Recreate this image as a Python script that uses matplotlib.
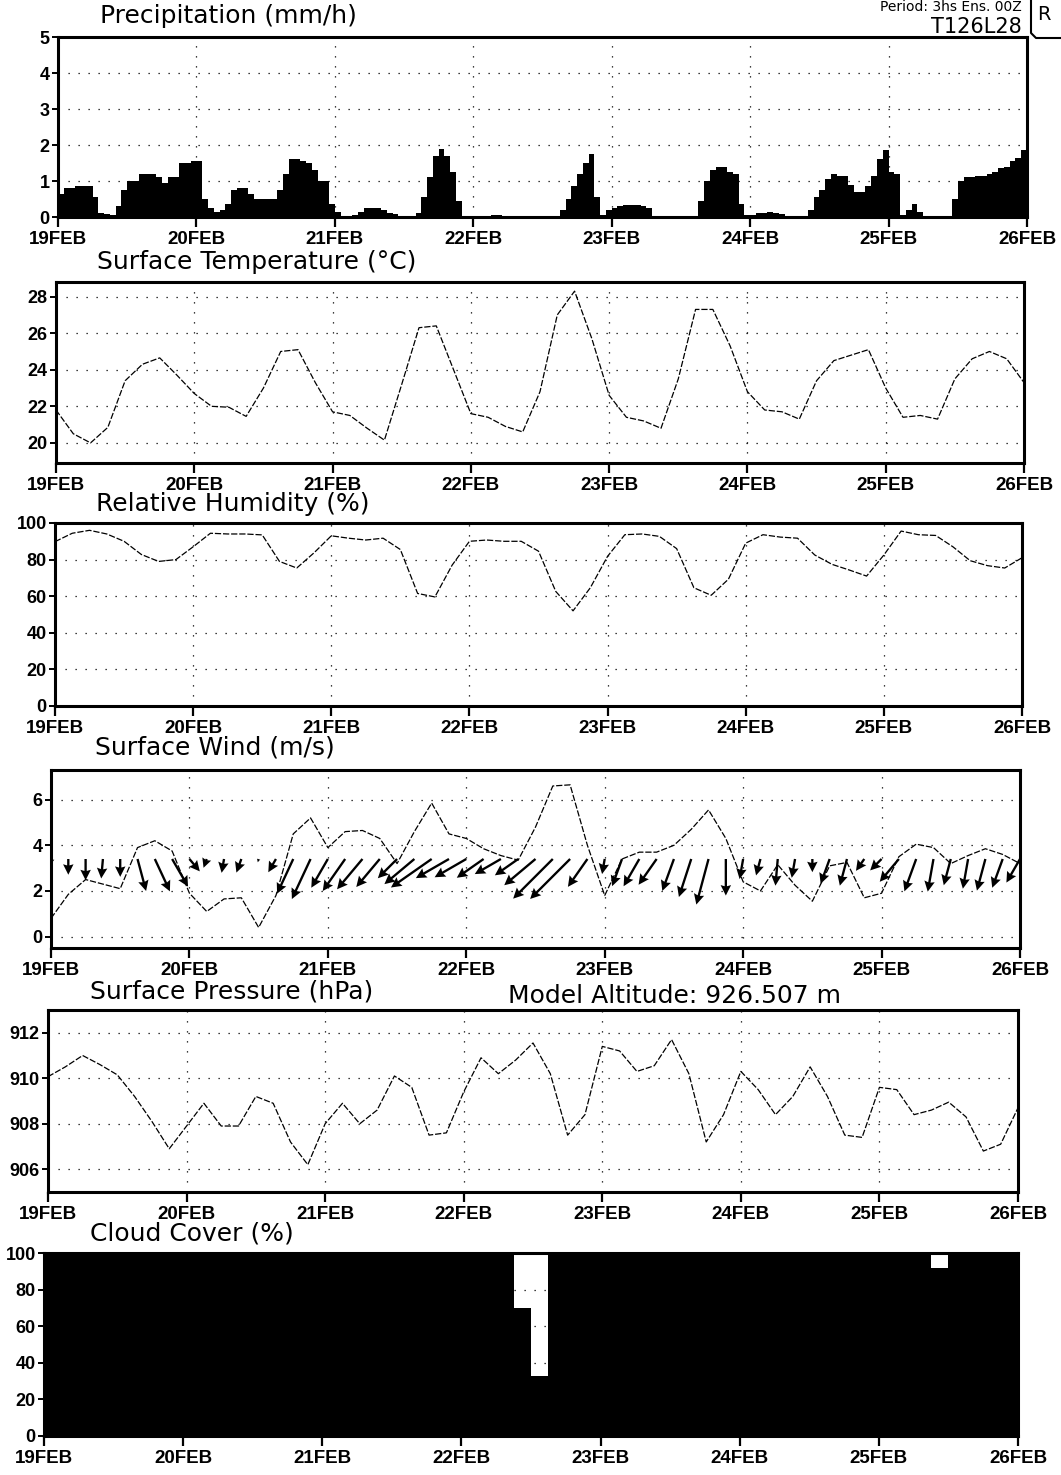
import numpy as np
import matplotlib; matplotlib.use("Agg")
import matplotlib.pyplot as plt
from matplotlib.lines import Line2D

DAYS = ["19FEB", "20FEB", "21FEB", "22FEB", "23FEB", "24FEB", "25FEB", "26FEB"]

# hourly precipitation (mm/h), one row per day
PR_19 = [0.65,0.8,0.8,0.85,0.85,0.85,0.55,0.1,0.08,0.05,0.3,0.75,1.0,1.0,1.2,1.2,1.2,1.1,0.95,1.1,1.1,1.5,1.5,1.55]
PR_20 = [1.55,0.5,0.25,0.15,0.2,0.35,0.75,0.8,0.8,0.65,0.5,0.5,0.5,0.5,0.75,1.2,1.6,1.6,1.55,1.5,1.3,1.0,1.0,0.35]
PR_21 = [0.15,0.02,0.02,0.05,0.15,0.25,0.25,0.25,0.2,0.12,0.08,0.02,0.02,0.02,0.1,0.55,1.1,1.7,1.9,1.7,1.25,0.45,0.02,0.02]
PR_22 = [0.02,0.02,0.03,0.05,0.05,0.03,0.02,0.02,0.02,0.02,0.02,0.02,0.02,0.02,0.02,0.2,0.5,0.85,1.2,1.5,1.75,0.55,0.05,0.2]
PR_23 = [0.25,0.3,0.33,0.33,0.33,0.3,0.25,0.02,0.02,0.02,0.02,0.02,0.02,0.02,0.02,0.45,1.0,1.3,1.4,1.4,1.25,1.2,0.35,0.05]
PR_24 = [0.05,0.12,0.12,0.15,0.12,0.08,0.02,0.02,0.02,0.02,0.2,0.55,0.75,1.05,1.2,1.15,1.15,0.9,0.7,0.7,0.85,1.15,1.6,1.85]
PR_25 = [1.25,1.2,0.05,0.2,0.35,0.15,0.02,0.02,0.02,0.02,0.02,0.5,1.0,1.1,1.1,1.15,1.15,1.2,1.25,1.35,1.4,1.55,1.65,1.85]
PRECIP = PR_19 + PR_20 + PR_21 + PR_22 + PR_23 + PR_24 + PR_25

# 3-hourly series, 19FEB 00Z .. 26FEB 00Z
TEMP = [21.8,20.5,20.0,20.85,23.4,24.3,24.65,23.7,
        22.7,22.0,21.95,21.45,23.0,25.0,25.1,23.3,
        21.7,21.5,20.8,20.15,23.2,26.3,26.4,24.0,
        21.6,21.4,20.9,20.6,22.8,27.0,28.3,25.7,
        22.6,21.4,21.2,20.8,23.5,27.3,27.3,25.3,
        22.8,21.8,21.7,21.3,23.4,24.5,24.8,25.1,
        23.0,21.4,21.5,21.3,23.5,24.6,25.0,24.6,
        23.3]
RH = [89.8,94.4,96.0,94.0,90.0,82.8,79.0,80.0,
      87.0,94.4,94.0,94.0,93.5,79.0,75.4,83.7,
      93.0,91.7,90.7,91.7,85.5,61.5,59.6,77.0,
      90.0,90.7,90.0,90.0,84.6,62.6,52.0,64.6,
      81.8,93.6,94.0,92.7,86.0,64.6,60.5,69.3,
      89.0,93.6,92.3,91.7,82.5,77.4,74.3,71.0,
      82.5,95.6,93.6,93.2,87.0,79.4,76.7,75.4,
      81.0]
WSPD = [0.8,1.85,2.5,2.3,2.1,3.9,4.2,3.75,
        1.9,1.1,1.65,1.7,0.4,1.8,4.5,5.2,
        3.9,4.6,4.65,4.3,3.2,4.6,5.85,4.5,
        4.3,3.85,3.55,3.35,4.8,6.6,6.65,4.0,
        1.8,3.4,3.7,3.7,4.0,4.7,5.55,4.3,
        2.4,2.0,3.15,2.25,1.55,3.1,3.25,1.7,
        1.9,3.5,4.05,3.9,3.2,3.55,3.85,3.6,
        3.2]
WDIR = [10,0,0,5,0,345,335,330,
        320,20,10,20,15,30,25,25,
        30,35,40,40,45,50,55,60,
        60,55,60,55,50,45,45,35,
        10,20,30,35,20,18,15,0,
        10,15,5,10,0,20,15,35,
        45,40,20,10,15,10,15,20,
        30]
PRES = [910.07,910.5,911.0,910.6,910.15,909.2,908.1,906.9,
        907.9,908.9,907.9,907.9,909.2,908.9,907.2,906.2,
        908.0,908.9,908.0,908.6,910.1,909.6,907.5,907.6,
        909.4,910.9,910.2,910.8,911.55,910.2,907.5,908.4,
        911.4,911.2,910.3,910.55,911.7,910.2,907.2,908.4,
        910.3,909.5,908.4,909.2,910.5,909.2,907.5,907.4,
        909.6,909.5,908.4,908.6,908.95,908.3,906.8,907.1,
        908.7]
# 3-hourly cloud cover (%), per interval
CLOUD = [100,100,100,100,100,100,100,100,
         100,100,100,100,100,100,100,100,
         100,100,100,100,100,100,100,100,
         100,100,100,70,33,100,100,100,
         100,100,100,100,100,100,100,100,
         100,100,100,100,100,100,100,100,
         100,100,100,92,100,100,100,100]

W, H = 1061, 1475
plt.rcParams["font.family"] = ["Liberation Sans", "DejaVu Sans"]

fig = plt.figure(figsize=(W/100, H/100), dpi=100)


def panel(l, t, r, b, ylim, yticks):
    ax = fig.add_axes([l/W, 1-b/H, (r-l)/W, (b-t)/H])
    ax.set_xlim(0, 168); ax.set_ylim(*ylim)
    ax.set_xticks(np.arange(0, 169, 24)); ax.set_xticklabels(DAYS)
    ax.set_yticks(yticks); ax.set_yticklabels([str(v) for v in yticks])
    for s in ax.spines.values():
        s.set_linewidth(2.2)
    ax.tick_params(axis="x", direction="out", length=7, width=1.6, pad=3, labelsize=13.5)
    ax.tick_params(axis="y", direction="out", length=4, width=1.4, pad=2, labelsize=13)
    for lab in ax.get_xticklabels() + ax.get_yticklabels():
        lab.set_fontweight("bold")
    ax.set_axisbelow(True)
    ax.grid(True, ls=(0, (1, 7)), lw=0.9, color="k")
    return ax


def title(txt, x, y):
    fig.text(x/W, 1-y/H, txt, ha="left", va="center", fontsize=18, family="DejaVu Sans")


th = np.arange(0, 169)
t3 = np.arange(0, 169, 3)
LS = dict(color="k", lw=0.9, ls=(0, (5, 1.5)))

# precipitation
ax = panel(58, 37, 1027, 217, (0, 5), [0, 1, 2, 3, 4, 5])
ax.stairs(PRECIP, th, fill=True, color="k")
title("Precipitation (mm/h)", 100, 16)

# temperature
ax = panel(56, 282, 1024, 463, (18.9, 28.8), [20, 22, 24, 26, 28])
ax.plot(t3, TEMP, **LS)
title("Surface Temperature (°C)", 97, 262)

# relative humidity
ax = panel(55, 523, 1022, 706, (0, 100), [0, 20, 40, 60, 80, 100])
ax.plot(t3, RH, **LS)
title("Relative Humidity (%)", 96, 504)

# wind
ax = panel(51, 770, 1020, 948, (-0.5, 7.3), [0, 2, 4, 6])
ax.plot(t3, WSPD, **LS)
spd = np.array(WSPD); rad = np.deg2rad(WDIR)
u = -spd*np.sin(rad); v = -spd*np.cos(rad)
ax.quiver(t3, np.full(len(t3), 3.4), u, v, angles="uv", scale_units="dots",
          scale=1/8.5, pivot="tail", width=0.0024, headwidth=4.5, headlength=4.5,
          headaxislength=4, color="k", zorder=3)
title("Surface Wind (m/s)", 95, 747)

# pressure
ax = panel(48, 1010, 1018, 1192, (905, 913), [906, 908, 910, 912])
ax.plot(t3, PRES, **LS)
title("Surface Pressure (hPa)", 90, 992)
fig.text(508/W, 1-996/H, "Model Altitude: 926.507 m", ha="left", va="center",
         fontsize=18, family="DejaVu Sans")

# cloud cover
ax = panel(44, 1253, 1018, 1436, (0, 100), [0, 20, 40, 60, 80, 100])
ax.stairs(CLOUD, t3, fill=True, color="k")
title("Cloud Cover (%)", 90, 1234)

# header bits
fig.text(1022/W, 1-27/H, "T126L28", ha="right", va="center", fontsize=15, family="DejaVu Sans")
fig.text(1022/W, 1-7/H, "Period: 3hs Ens. 00Z", ha="right", va="center", fontsize=10,
         family="DejaVu Sans")
fig.add_artist(Line2D([1031/W, 1031/W, 1036/W, 1061/W],
                      [1.0, 1-33/H, 1-38/H, 1-38/H], color="k", lw=1.5))
fig.text(1037/W, 1-14/H, "R", ha="left", va="center", fontsize=14, family="DejaVu Sans")

fig.savefig("out.png", dpi=100)
